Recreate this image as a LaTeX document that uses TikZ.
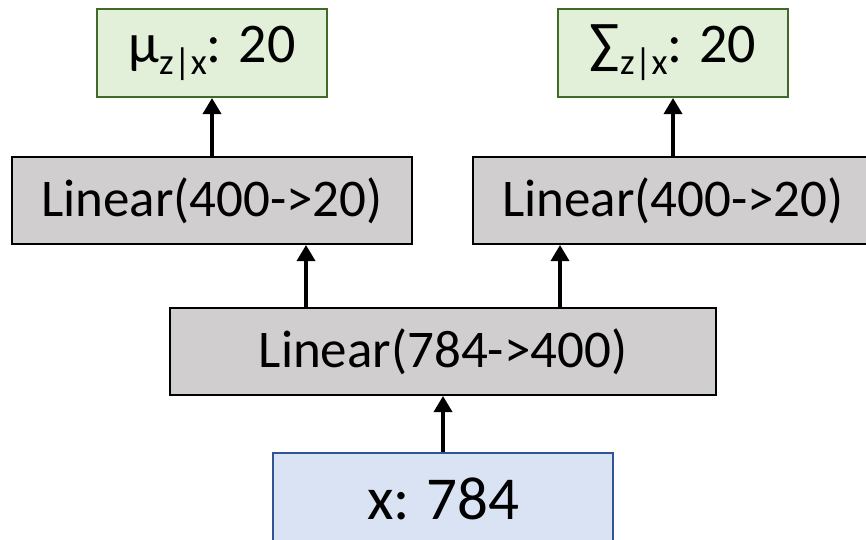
\documentclass[tikz,border=0pt]{standalone}
\usepackage{fontspec}
\setmainfont{Carlito}
\usetikzlibrary{arrows.meta}
\definecolor{gfill}{HTML}{E2F0D9}
\definecolor{gdraw}{HTML}{3F6A28}
\definecolor{lfill}{HTML}{D0CECE}
\definecolor{bfill}{HTML}{DAE3F3}
\definecolor{bdraw}{HTML}{2F5597}
\tikzset{
  box/.style={rectangle, line width=2pt, inner sep=0pt, anchor=center, text=black},
  outbox/.style={box, draw=gdraw, fill=gfill, minimum width=230pt, minimum height=88pt, font=\fontsize{56}{64}\selectfont},
  linbox/.style={box, draw=black, fill=lfill, minimum height=87pt, font=\fontsize{53}{62}\selectfont},
  inbox/.style={box, draw=bdraw, fill=bfill, minimum width=340pt, minimum height=92pt, font=\fontsize{61}{70}\selectfont},
  conn/.style={line width=3.5pt, -{Triangle[length=16pt,width=18pt]}}
}
\newcommand{\subzx}{\raisebox{-12pt}{\fontsize{37}{42}\selectfont z|x}}
\begin{document}
\begin{tikzpicture}[x=1pt,y=1pt]
\useasboundingbox (0,0) rectangle (866,-539);
\begin{scope}
\clip (0,0) rectangle (866,-539);
\node[outbox] (mu) at (212,-53) {μ\subzx: 20};
\node[outbox] (sig) at (673,-53) {∑\subzx: 20};
\node[linbox, minimum width=400pt] (ll) at (212,-200.5) {Linear(400->20)};
\node[linbox, minimum width=400pt] (rl) at (673,-200.5) {Linear(400->20)};
\node[linbox, minimum width=546pt] (mid) at (443,-351.5) {Linear(784->400)};
\node[inbox] (x) at (443,-499) {\raisebox{-4pt}{x:\hspace{-2pt} 784}};
\draw[conn] (x.north) -- (mid.south);
\draw[conn] ([xshift=-137pt]mid.north) -- ([xshift=94pt]ll.south);
\draw[conn] ([xshift=117pt]mid.north) -- ([xshift=-113pt]rl.south);
\draw[conn] (ll.north) -- (mu.south);
\draw[conn] (rl.north) -- (sig.south);
\end{scope}
\end{tikzpicture}
\end{document}
